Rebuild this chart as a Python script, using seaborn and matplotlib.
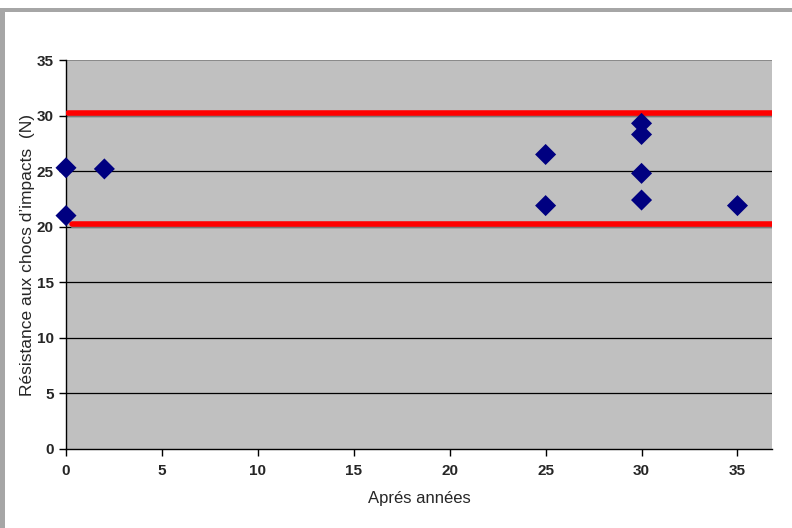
import matplotlib
matplotlib.use("Agg")
import matplotlib.pyplot as plt
import seaborn as sns
import pandas as pd
from matplotlib.patches import Rectangle

annees = [0, 0, 2, 25, 25, 30, 30, 30, 30, 35]
resistance = [25.3, 21.0, 25.2, 26.5, 21.9, 29.3, 28.3, 24.8, 22.4, 21.9]
limite_haute = 30.2
limite_basse = 20.25
y_ticks = [0, 5, 10, 15, 20, 25, 30, 35]
x_ticks = [0, 5, 10, 15, 20, 25, 30, 35]

sns.set_theme(style="white")
plt.rcParams['font.family'] = ['Liberation Sans', 'DejaVu Sans']

df = pd.DataFrame({"annees": annees, "resistance": resistance})

fig = plt.figure(figsize=(7.92, 5.28), dpi=100)
ax = fig.add_axes([66/792, 1 - 449/528, (772 - 66)/792, (449 - 60)/528])
ax.set_facecolor("#C0C0C0")

# frame of the figure
fig.patches.append(Rectangle((0, 0), 5/792, 1 - 8/528, transform=fig.transFigure,
                             facecolor="#A6A6A6", edgecolor="none", zorder=0))
fig.patches.append(Rectangle((0, 1 - 12/528), 1, 4/528, transform=fig.transFigure,
                             facecolor="#A6A6A6", edgecolor="none", zorder=0))

for yv in y_ticks[1:-1]:
    ax.axhline(yv, color="black", lw=0.9, zorder=1)
ax.axhline(y_ticks[-1], color="#808080", lw=1.2, zorder=1)

# red limit lines with shadow
for yv, x0 in [(limite_haute, 0.003), (limite_basse, 0.009)]:
    ax.axhline(yv - 0.28, xmin=x0, xmax=1, color="#7A7A7A", lw=1.5, zorder=2)
    ax.axhline(yv, xmin=x0, xmax=1, color="#FF0000", lw=4, zorder=3)

sns.scatterplot(data=df, x="annees", y="resistance", marker="D", s=115,
                color="#000080", edgecolor="none", ax=ax, zorder=4, clip_on=False)

ax.set_xlim(0, 36.8)
ax.set_ylim(0, 35)
ax.set_xticks(x_ticks)
ax.set_yticks(y_ticks)
ax.set_xticklabels([str(v) for v in x_ticks], fontsize=11, fontweight="bold")
ax.set_yticklabels([str(v) for v in y_ticks], fontsize=11, fontweight="bold")
ax.tick_params(axis="both", direction="out", length=5, width=1, color="black",
               bottom=True, left=True, pad=4)
ax.tick_params(axis="x", pad=6)

for side in ["top", "right"]:
    ax.spines[side].set_visible(False)
for side in ["left", "bottom"]:
    ax.spines[side].set_color("black")
    ax.spines[side].set_linewidth(1)

ax.set_xlabel("Aprés années", fontsize=12, labelpad=9)
ax.set_ylabel("Résistance aux chocs d’impacts  (N)", fontsize=12.5, labelpad=1)

fig.savefig("out.png", dpi=100, facecolor="white")
